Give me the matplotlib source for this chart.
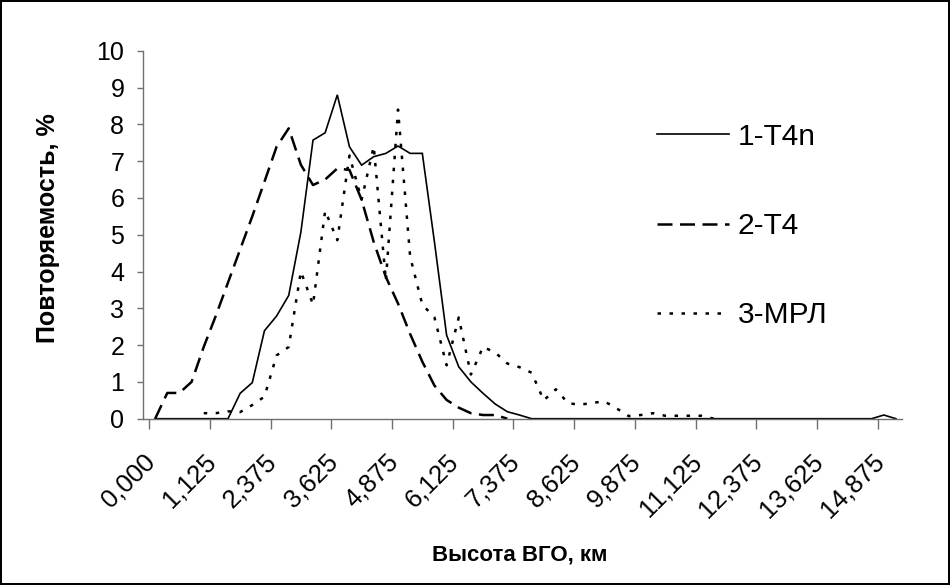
import numpy as np
import matplotlib
matplotlib.use("Agg")
import matplotlib.pyplot as plt

plt.rcParams['font.family'] = ['Liberation Sans', 'DejaVu Sans']

nan = np.nan
# categories: 0,000 then bin centres 0,125 + 0,25*k
categories = [0.0] + [0.25 * k - 0.125 for k in range(1, 62)]
tick_labels = ["0,000", "1,125", "2,375", "3,625", "4,875", "6,125", "7,375",
               "8,625", "9,875", "11,125", "12,375", "13,625", "14,875"]

t4n = [0, 0, 0, 0, 0, 0, 0, 0.69, 0.98, 2.39, 2.79, 3.35, 5.07, 7.57, 7.77, 8.80,
       7.39, 6.89, 7.12, 7.21, 7.41, 7.21, 7.21, 4.8, 2.27, 1.41, 1.0, 0.69, 0.40,
       0.19, 0.10, 0, 0, 0, 0, 0, 0, 0, 0, 0, 0, 0, 0, 0, 0, 0, 0, 0, 0, 0, 0, 0,
       0, 0, 0, 0, 0, 0, 0, 0, 0.1, 0]
t4 = [0, 0.7, 0.7, 1.0, 1.95, 2.8, 3.7, 4.6, 5.5, 6.44, 7.39, 7.89, 6.9, 6.35,
      6.5, 6.8, 6.76, 5.95, 4.8, 3.85, 3.13, 2.3, 1.55, 0.9, 0.51, 0.3, 0.15, 0.1,
      0.1, 0] + [nan] * 32
mrl = [nan, nan, nan, nan, 0.15, 0.15, 0.2, 0.18, 0.37, 0.6, 1.72, 1.95, 4.0, 3.1,
       5.65, 4.85, 7.15, 5.95, 7.4, 3.75, 8.4, 4.4, 3.1, 2.75, 1.45, 2.75, 1.2, 1.95,
       1.8, 1.5, 1.4, 1.25, 0.5, 0.8, 0.42, 0.38, 0.43, 0.47, 0.28, 0.07, 0.1, 0.15,
       0.08, 0.08, 0.08, 0.08, 0] + [nan] * 15

series_names = ["1-T4n", "2-T4", "3-МРЛ"]
y_label = "Повторяемость, %"
x_label = "Высота ВГО, км"

n = len(categories)
xpos = np.arange(n) + 0.5

W, H = 950, 585
fig = plt.figure(figsize=(W / 100, H / 100), dpi=100, facecolor='white',
                 edgecolor='black', linewidth=1.5)
ax = fig.add_axes([143 / W, 1 - 418.7 / H, 759 / W, 368 / H])
ax.set_xlim(0, n)
ax.set_ylim(0, 10)

l1, = ax.plot(xpos, t4n, color='black', lw=1.2, solid_joinstyle='miter', label=series_names[0])
l2, = ax.plot(xpos, t4, color='black', lw=1.8, linestyle=(0, (6, 3)), label=series_names[1])
l3, = ax.plot(xpos, mrl, color='black', lw=1.8, linestyle=(0, (1.4, 3.4)), label=series_names[2])

for s in ['top', 'right']:
    ax.spines[s].set_visible(False)
axcol = '#707070'
for s in ['left', 'bottom']:
    ax.spines[s].set_color(axcol)
    ax.spines[s].set_linewidth(1.0)

ax.set_yticks(np.arange(0, 11, 1))
ax.tick_params(axis='y', direction='out', length=4.5, width=1.0, color=axcol,
               labelsize=18, pad=9)

# major ticks at category boundaries every 5 categories; labels placed near category centres
ax.set_xticks(np.arange(0, 61, 5))
ax.set_xticklabels([])
ax.tick_params(axis='x', which='major', direction='out', length=7, width=1.0, color=axcol)
label_idx = np.arange(0, 61, 5)
ax.set_xticks(label_idx - 0.5, minor=True)
ax.set_xticklabels(tick_labels, minor=True, rotation=45, ha='right', va='top',
                   rotation_mode='anchor')
ax.tick_params(axis='x', which='minor', length=0, labelsize=18.5, pad=22)

ax.set_ylabel(y_label, fontsize=18, fontweight='bold')
ax.yaxis.set_label_coords((60 - 143) / 759, (418.7 - 228) / 368)
ax.set_xlabel(x_label, fontsize=16, fontweight='bold')
ax.xaxis.set_label_coords((520 - 143) / 759, (418.7 - 545) / 368)

leg = ax.legend(handles=[l1, l2, l3], loc='center left',
                bbox_to_anchor=(657 / W, 1 - 226 / H), bbox_transform=fig.transFigure,
                frameon=False, fontsize=21.5, handlelength=2.4, handletextpad=0.3,
                labelspacing=2.05, borderpad=0, borderaxespad=0)

fig.savefig('out.png', dpi=100)
